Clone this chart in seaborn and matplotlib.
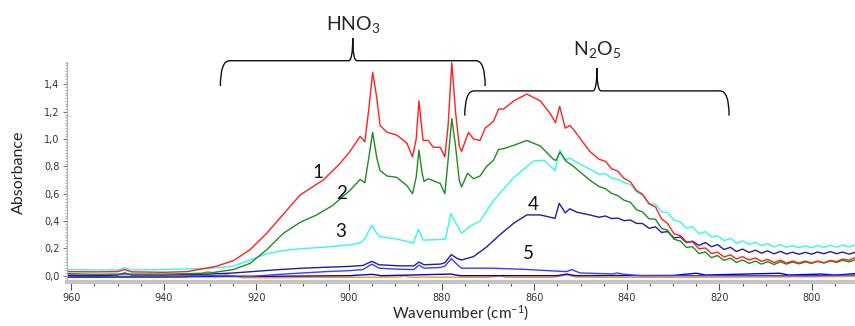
import numpy as np
import pandas as pd
import matplotlib
matplotlib.use("Agg")
import matplotlib.pyplot as plt
from matplotlib.path import Path
from matplotlib.patches import PathPatch
from matplotlib.ticker import MultipleLocator
import seaborn as sns

# ---- data (wavenumber, absorbance) ----
red_pre = [(961, 0.03), (955, 0.028), (950, 0.03), (948.5, 0.045), (947, 0.028), (940, 0.025),
           (935, 0.03), (930, 0.06), (928.6, 0.07), (925, 0.11), (921.4, 0.19), (917.8, 0.31),
           (914.2, 0.45), (910.6, 0.59), (907, 0.67), (905.6, 0.70), (902, 0.82), (899.8, 0.91),
           (897.6, 1.02), (896.6, 0.98), (895.8, 1.2), (894.9, 1.49), (894, 1.3), (893.3, 1.1),
           (891.8, 1.05), (889.7, 1.03), (887.5, 0.97), (886.3, 0.87), (885.5, 1.0), (884.9, 1.28),
           (884.2, 1.05), (884, 0.99), (882.9, 0.99), (881.8, 0.94), (880.3, 0.94), (879.3, 0.87),
           (878.6, 1.1), (877.8, 1.56), (877, 1.2), (876.2, 0.95), (875.7, 0.91), (874.2, 1.05),
           (873.1, 1.0), (871.7, 0.99), (870.6, 1.08), (868.8, 1.13), (867.7, 1.22), (866.6, 1.22),
           (864.4, 1.28), (861.6, 1.33), (858.7, 1.28), (856.6, 1.19), (855.4, 1.12), (854.5, 1.24),
           (853.3, 1.08), (852.3, 1.1), (851.5, 1.07), (848, 0.91)]

green_pre = [(961, 0.015), (955, 0.01), (950, 0.012), (945, 0.012), (940, 0.012), (935, 0.015),
             (930, 0.02), (928, 0.03), (925, 0.045), (921.4, 0.09), (917.8, 0.19), (914.2, 0.31),
             (910.6, 0.39), (907, 0.445), (903.5, 0.515), (899.8, 0.625), (897.6, 0.705), (896.6, 0.68),
             (895.8, 0.85), (894.9, 1.05), (894, 0.86), (893.3, 0.77), (891.8, 0.73), (889.7, 0.72),
             (887.5, 0.66), (886.3, 0.60), (885.5, 0.72), (884.9, 0.92), (884.2, 0.75), (883.8, 0.69),
             (882.9, 0.71), (880.3, 0.675), (879.3, 0.60), (878.6, 0.85), (877.8, 1.15), (877, 0.95),
             (876.2, 0.7), (875.7, 0.65), (874.4, 0.75), (873.1, 0.71), (871.7, 0.73), (870.3, 0.80),
             (868.8, 0.845), (867.7, 0.925), (866.6, 0.93), (864.4, 0.955), (861.6, 0.99), (858.7, 0.95),
             (855.8, 0.85), (855.3, 0.845), (854.4, 0.905), (853, 0.835), (851.5, 0.80), (848, 0.70)]

cyan_pre = [(961, 0.045), (955, 0.042), (950, 0.042), (948.5, 0.058), (947, 0.042), (940, 0.045),
            (935, 0.05), (930, 0.055), (925, 0.07), (921.4, 0.115), (917.8, 0.16), (914.2, 0.185),
            (910.6, 0.197), (905, 0.21), (900, 0.225), (897.6, 0.24), (896.6, 0.27), (895.1, 0.37),
            (894, 0.31), (893.3, 0.285), (889.7, 0.268), (886.1, 0.24), (885, 0.34), (884, 0.26),
            (880.3, 0.265), (879.2, 0.27), (878, 0.455), (877, 0.39), (875.7, 0.31), (874.2, 0.355),
            (871.7, 0.40), (868.8, 0.55), (864.4, 0.72), (860.1, 0.84), (857.9, 0.845), (855.5, 0.77),
            (854.5, 0.92), (853.5, 0.845), (852.3, 0.86), (850.8, 0.83), (848, 0.78)]

navy_pre = [(961, 0.005), (955, 0.0), (950, 0.005), (948.5, 0.02), (947, 0.005), (940, 0.005),
            (935, 0.008), (930, 0.012), (925, 0.02), (921, 0.03), (915, 0.045), (910, 0.055),
            (905, 0.062), (900, 0.068), (897, 0.075), (895.1, 0.105), (893.5, 0.08), (889, 0.072),
            (886, 0.072), (884.9, 0.1), (883.8, 0.08), (880.3, 0.085), (879.3, 0.095), (877.9, 0.155),
            (876.6, 0.125), (875.7, 0.115), (873.1, 0.14), (870.3, 0.21), (867.4, 0.30), (864.4, 0.385),
            (861.6, 0.445), (858.7, 0.445), (855.5, 0.42), (854.6, 0.53), (853.3, 0.46), (852.3, 0.49),
            (850.8, 0.465), (848, 0.445)]

# ripple region (846 -> 790.6), shared wavenumbers
rip_wn = [846.0, 844.6, 843.3, 842.0, 840.6, 839.2, 837.9, 836.6, 835.2, 833.8, 832.5, 831.2,
          829.8, 828.4, 827.1, 825.8, 824.4, 823.0, 821.7, 820.4, 819.0, 817.6, 816.3, 815.0,
          813.6, 812.2, 810.9, 809.6, 808.2, 806.8, 805.5, 804.2, 802.8, 801.4, 800.1, 798.8,
          797.4, 796.0, 794.7, 793.4, 792.0, 790.6]
red_rip = [0.853, 0.837, 0.783, 0.767, 0.713, 0.687, 0.623, 0.597, 0.527, 0.503, 0.417, 0.383,
           0.307, 0.293, 0.247, 0.248, 0.197, 0.203, 0.162, 0.173, 0.137, 0.153, 0.122, 0.14,
           0.115, 0.13, 0.105, 0.12, 0.097, 0.114, 0.093, 0.107, 0.093, 0.107, 0.093, 0.107,
           0.095, 0.112, 0.103, 0.122, 0.113, 0.134]
green_rip = [0.653, 0.637, 0.603, 0.587, 0.553, 0.537, 0.483, 0.467, 0.417, 0.413, 0.347, 0.333,
             0.267, 0.253, 0.207, 0.213, 0.162, 0.173, 0.132, 0.148, 0.112, 0.128, 0.097, 0.115,
             0.09, 0.107, 0.085, 0.103, 0.082, 0.102, 0.085, 0.10, 0.087, 0.102, 0.09, 0.105,
             0.093, 0.109, 0.097, 0.113, 0.101, 0.117]
cyan_rip = [0.743, 0.747, 0.713, 0.707, 0.683, 0.667, 0.613, 0.587, 0.527, 0.523, 0.467, 0.463,
            0.407, 0.393, 0.347, 0.358, 0.307, 0.323, 0.282, 0.293, 0.257, 0.273, 0.237, 0.255,
            0.23, 0.245, 0.22, 0.235, 0.21, 0.228, 0.208, 0.22, 0.205, 0.219, 0.205, 0.22,
            0.207, 0.222, 0.209, 0.224, 0.211, 0.227]
navy_rip = [0.428, 0.437, 0.418, 0.422, 0.403, 0.407, 0.383, 0.382, 0.347, 0.358, 0.317, 0.323,
            0.277, 0.283, 0.242, 0.253, 0.222, 0.243, 0.212, 0.228, 0.192, 0.208, 0.177, 0.195,
            0.17, 0.187, 0.165, 0.182, 0.16, 0.178, 0.159, 0.172, 0.157, 0.171, 0.158, 0.173,
            0.161, 0.177, 0.161, 0.173, 0.158, 0.172]

blue5 = [(961, 0.0), (950, -0.005), (940, -0.005), (930, 0.0), (921, -0.005), (915, 0.01),
         (910, 0.02), (905, 0.03), (900, 0.037), (897, 0.045), (895.1, 0.085), (893.5, 0.055),
         (889, 0.047), (886, 0.045), (884.9, 0.078), (883.8, 0.055), (880.3, 0.06), (879.3, 0.07),
         (877.9, 0.125), (876.6, 0.08), (875.7, 0.055), (869.5, 0.055), (862.3, 0.047), (858.7, 0.04),
         (853, 0.03), (851.9, 0.045), (850.1, 0.02), (843, 0.013), (842, 0.02), (841, 0.012),
         (837, 0.0), (830, 0.0), (825, 0.0), (820, 0.0), (810, 0.0), (800, 0.0), (790.6, 0.005)]
blue6 = [(961, -0.01), (940, -0.008), (920, -0.005), (900, 0.0), (895, 0.01), (893, 0.0),
         (878, 0.012), (876, 0.0), (855, 0.0), (853, 0.012), (851, 0.0), (830, 0.002), (825, 0.018),
         (823, 0.005), (807, 0.018), (805, 0.005), (798, 0.012), (795, 0.005), (790.6, 0.015)]
orange = [(961, -0.005), (955, -0.01), (950, -0.01), (940, -0.012), (935, -0.01), (932, 0.015),
          (930.5, 0.03), (929, 0.02), (926, 0.005), (923, -0.015), (915, -0.015), (908, -0.012),
          (900, -0.012), (889, -0.01), (888, 0.0), (887, -0.01), (870, -0.012), (867.4, 0.0),
          (866, -0.012), (856, -0.012), (853, 0.005), (851, -0.01), (845, -0.012), (830, -0.012),
          (810, -0.01), (800, -0.008), (790.6, -0.005)]

series = {
    "orange": orange,
    "blue6": blue6,
    "blue5": blue5,
    "navy": navy_pre + list(zip(rip_wn, navy_rip)),
    "cyan": cyan_pre + list(zip(rip_wn, cyan_rip)),
    "green": green_pre + list(zip(rip_wn, green_rip)),
    "red": red_pre + list(zip(rip_wn, red_rip)),
}
colors = {"orange": "#ff9a00", "blue6": "#0000dd", "blue5": "#3c3cff", "navy": "#20209c",
          "cyan": "#35f5f5", "green": "#1e8c1e", "red": "#ff2020"}

xticks = [960, 940, 920, 900, 880, 860, 840, 820, 800]
yticks = [0.0, 0.2, 0.4, 0.6, 0.8, 1.0, 1.2, 1.4]
ytick_labels = ["0,0", "0,2", "0,4", "0,6", "0,8", "1,0", "1,2", "1,4"]

rows = []
for name, pts in series.items():
    for i, (w, a) in enumerate(pts):
        rows.append({"series": name, "order": i, "wn": w, "abs": a})
df = pd.DataFrame(rows)

sns.set_style("white")
plt.rcParams["font.family"] = ["Lato", "DejaVu Sans"]
plt.rcParams["mathtext.default"] = "regular"

fig = plt.figure(figsize=(8.55, 3.26), dpi=100)
ax = fig.add_axes([0.078, 0.135, 0.922, 0.675])

for name in series:
    sub = df[df["series"] == name]
    sns.lineplot(data=sub, x="wn", y="abs", sort=False, estimator=None, color=colors[name],
                 lw=1.0, ax=ax, legend=False)

ax.set_xlim(961, 790.7)
ax.set_ylim(-0.046, 1.565)
ax.set_xticks(xticks)
ax.set_xticklabels([str(t) for t in xticks])
ax.set_yticks(yticks)
ax.set_yticklabels(ytick_labels)
ax.xaxis.set_minor_locator(MultipleLocator(5))
ax.yaxis.set_minor_locator(MultipleLocator(0.02))

for s in ["top", "right"]:
    ax.spines[s].set_visible(False)
ax.spines["bottom"].set_color("#c4c4c4")
ax.spines["bottom"].set_linewidth(3)
ax.spines["left"].set_color("#b0b0b0")
ax.spines["left"].set_linewidth(0.8)

ax.tick_params(axis="x", which="major", direction="out", length=6, width=0.8, color="#555555",
               labelsize=7, labelcolor="#333333", pad=2, bottom=True)
ax.tick_params(axis="x", which="minor", direction="out", length=3, width=0.8, color="#555555", bottom=True)
ax.tick_params(axis="y", which="major", direction="out", length=3, width=0.8, color="#777777",
               labelsize=7, labelcolor="#333333", pad=2, left=True)
ax.tick_params(axis="y", which="minor", direction="out", length=1.5, width=0.6, color="#999999", left=True)
for lab in ax.get_xticklabels() + ax.get_yticklabels():
    lab.set_family("DejaVu Sans")

ax.set_xlabel("Wavenumber (cm$^{-1}$)", fontsize=11, labelpad=0)
ax.set_ylabel("Absorbance", fontsize=11.5, labelpad=13)

# curve numbers
for txt, x, y in [("1", 906.7, 0.757), ("2", 901.7, 0.60), ("3", 901.9, 0.32),
                  ("4", 860.3, 0.52), ("5", 861.3, 0.165)]:
    ax.text(x, y, txt, fontsize=13.5, ha="center", va="center", color="#111111")


def brace(ax, x0, x1, y_end, y_bar, y_tip):
    xc = (x0 + x1) / 2
    s = 1 if x1 > x0 else -1
    r = 2.0 * s
    w = 0.9 * s
    verts = [(x0, y_end), (x0, y_bar), (x0 + r, y_bar),
             (xc - w, y_bar), (xc, y_bar), (xc, y_tip),
             (xc, y_bar), (xc + w, y_bar),
             (x1 - r, y_bar), (x1, y_bar), (x1, y_end)]
    codes = [Path.MOVETO, Path.CURVE3, Path.CURVE3,
             Path.LINETO, Path.CURVE3, Path.CURVE3,
             Path.CURVE3, Path.CURVE3,
             Path.LINETO, Path.CURVE3, Path.CURVE3]
    ax.add_patch(PathPatch(Path(verts, codes), fill=False, lw=1.0, ec="#111111", clip_on=False))


brace(ax, 927.8, 870.6, 1.388, 1.574, 1.74)
brace(ax, 875.0, 817.9, 1.172, 1.353, 1.52)
ax.text(899.1, 1.84, "HNO$_3$", fontsize=14, ha="center", va="center", clip_on=False)
ax.text(846.4, 1.655, "N$_2$O$_5$", fontsize=14, ha="center", va="center", clip_on=False)

fig.savefig("out.png", dpi=100)
